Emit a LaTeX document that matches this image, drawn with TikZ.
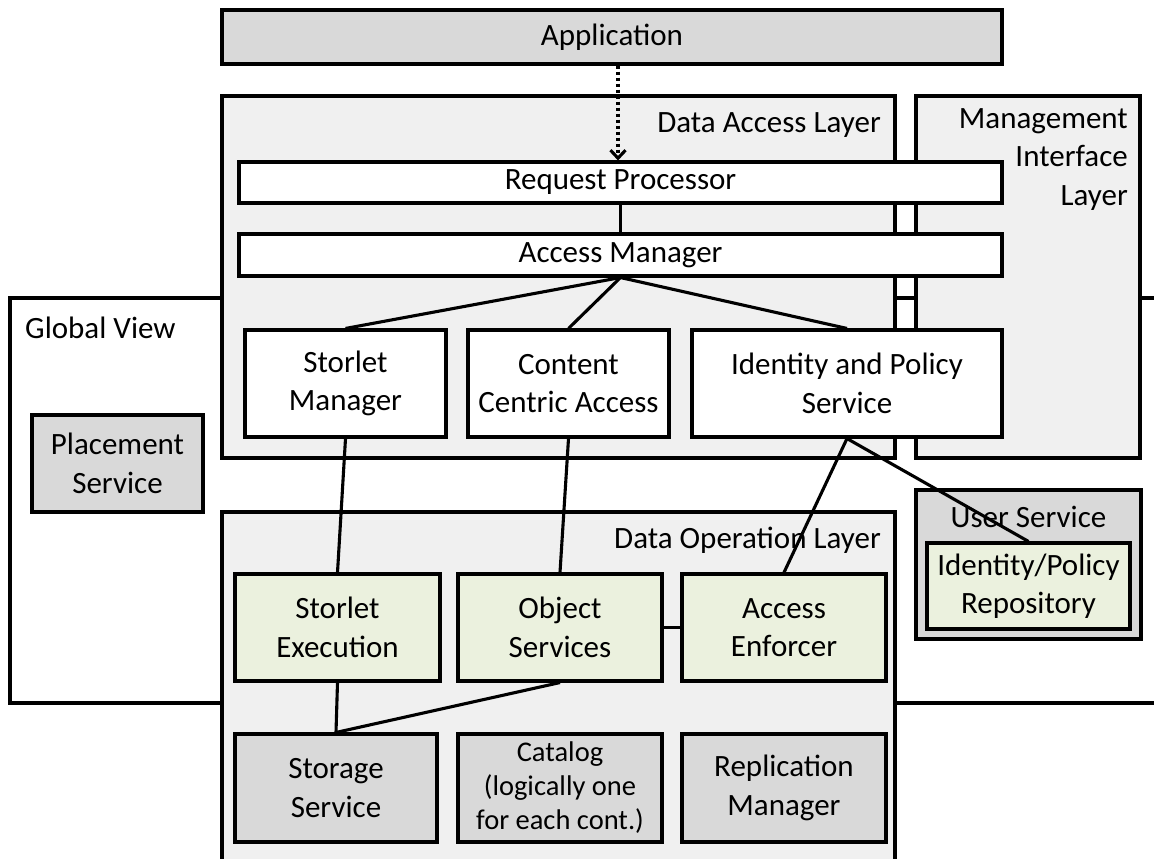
\documentclass[tikz,border=0pt]{standalone}
\usepackage{fontspec}
\setmainfont{Carlito}
\usetikzlibrary{arrows.meta}
\definecolor{boxgray}{HTML}{D9D9D9}
\definecolor{layerfill}{HTML}{F0F0F0}
\definecolor{opfill}{HTML}{EBF1DE}
\tikzset{
  lbl/.style={font=\fontsize{31}{38.5}\selectfont, inner sep=0pt},
  blk/.style={lbl, draw, line width=3.1pt, rectangle, align=center},
  sizedblk/.style 2 args={blk, minimum width=#1, minimum height=#2},
  link/.style={line width=3.1pt},
}
\begin{document}
\begin{tikzpicture}[x=1pt,y=-1pt]
\useasboundingbox (0,0) rectangle (1154,859);
\clip (0,0) rectangle (1154,859);

% global view frame behind the layers
\node[sizedblk={1160pt}{405pt}, fill=white] (gv) at (590,500.5) {};
\node[lbl, anchor=west] (gvl) at (25,328) {Global View};
\node[sizedblk={171pt}{97pt}, fill=boxgray] (place) at (117.5,463.5) {Placement\\Service};

% application
\node[sizedblk={780pt}{54pt}, fill=boxgray] (app) at (612,37) {Application};

% layers
\node[sizedblk={673pt}{362pt}, fill=layerfill] (dal) at (558.5,277) {};
\node[lbl, anchor=east] (dall) at (881,125) {Data Access Layer};
\node[sizedblk={224pt}{362pt}, fill=layerfill] (mil) at (1028,277) {};
\node[lbl, anchor=north east, align=right] (mill) at (1128,108) {Management\\Interface\\Layer};
\node[sizedblk={673pt}{368pt}, fill=layerfill] (dol) at (558.5,696) {};
\node[lbl, anchor=east] (doll) at (881,540) {Data Operation Layer};

% data access layer components
\node[sizedblk={763pt}{41pt}, fill=white] (rp) at (620.5,182.5) {Request Processor};
\node[sizedblk={763pt}{42pt}, fill=white] (am) at (620.5,255) {Access Manager};
\node[sizedblk={201pt}{107pt}, fill=white] (sm) at (345.5,383.5) {Storlet\\Manager};
\node[sizedblk={201pt}{107pt}, fill=white] (cca) at (568.5,383.5) {Content\\Centric Access};
\node[sizedblk={310pt}{107pt}, fill=white] (ips) at (847,383.5) {Identity and Policy\\Service};

% user service
\node[sizedblk={225pt}{149pt}, fill=boxgray] (us) at (1028.5,564.5) {};
\node[lbl] (usl) at (1028.5,517) {User Service};
\node[sizedblk={203pt}{86pt}, fill=opfill] (repo) at (1028.5,586) {Identity/Policy\\Repository};

% data operation layer components
\node[sizedblk={205pt}{107pt}, fill=opfill] (se) at (337.5,627.5) {Storlet\\Execution};
\node[sizedblk={204pt}{107pt}, fill=opfill] (os) at (560,627.5) {Object\\Services};
\node[sizedblk={204pt}{107pt}, fill=opfill] (ae) at (784,627.5) {Access\\Enforcer};
\node[sizedblk={202pt}{108pt}, fill=boxgray] (ss) at (336,788) {Storage\\Service};
\node[sizedblk={204pt}{108pt}, fill=boxgray, font=\fontsize{28.5}{34}\selectfont] (cat) at (560,788) {Catalog\\(logically one\\for each cont.)};
\node[sizedblk={204pt}{108pt}, fill=boxgray] (rm) at (784,788) {Replication\\Manager};

% connectors
\draw[link, dash pattern=on 3.5pt off 2.5pt, -{Straight Barb[length=8pt,width=15pt,line width=3.1pt]}] (app.south -| 618,0) -- (rp.north -| 618,0);
\draw[link] (rp.south) -- (am.north);
\draw[link] (am.south) -- (sm.north);
\draw[link] (am.south) -- (cca.north);
\draw[link] (am.south) -- (ips.north);
\draw[link] (sm.south) -- (se.north);
\draw[link] (cca.south) -- (os.north);
\draw[link] (ips.south) -- (ae.north);
\draw[link] (ips.south) -- (repo.north);
\draw[link] (os.east) -- (ae.west);
\draw[link] (se.south) -- (ss.north);
\draw[link] (os.south) -- (ss.north);
\end{tikzpicture}
\end{document}
